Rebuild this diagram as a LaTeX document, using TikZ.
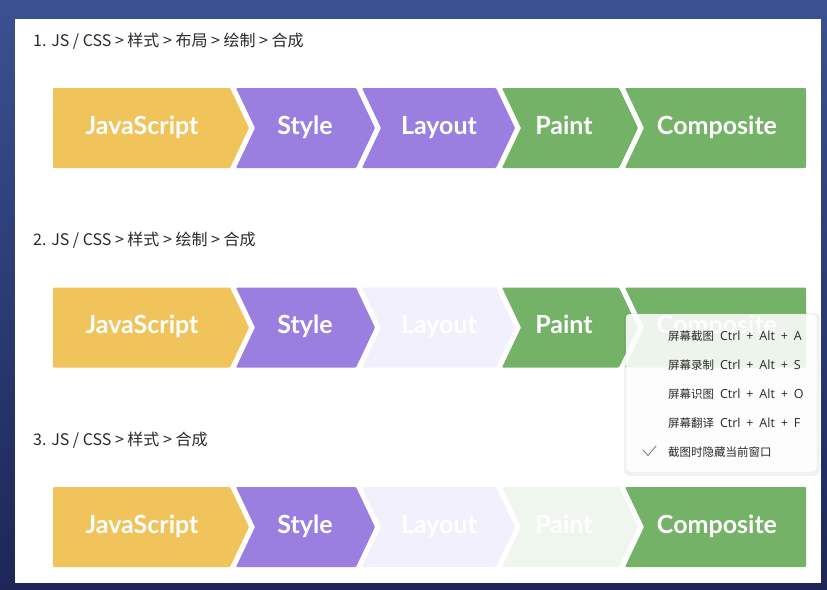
\documentclass[tikz,border=0pt]{standalone}
\usepackage{fontspec}
\setmainfont{Noto Sans CJK SC}
\newfontfamily\stagefont{Lato}
\newfontfamily\keyfont[WordSpace=1.8]{Open Sans}
\usepackage{tikz}
\usetikzlibrary{calc,positioning}
\definecolor{frameTop}{HTML}{3A5192}
\definecolor{frameBot}{HTML}{1D2657}
\definecolor{jsYellow}{HTML}{F0C35B}
\definecolor{stylePurple}{HTML}{9A7FE1}
\definecolor{paintGreen}{HTML}{74B267}
\definecolor{layoutFaint}{HTML}{F3F0FD}
\definecolor{paintFaint}{HTML}{EFF6EE}
\definecolor{inkGray}{HTML}{2A2A2A}

% chevron segments: colour, top y, left x, right x (depth 19)
\newcommand{\headseg}[4]{\fill[#1,rounded corners=1pt] (#3,#2) -- (#4,#2) -- (#4+19,#2+40) -- (#4,#2+80) -- (#3,#2+80) -- cycle;}
\newcommand{\midseg}[4]{\fill[#1,rounded corners=1pt] (#3,#2) -- (#4,#2) -- (#4+19,#2+40) -- (#4,#2+80) -- (#3,#2+80) -- (#3+19,#2+40) -- cycle;}
\newcommand{\tailseg}[4]{\fill[#1,rounded corners=1pt] (#3,#2) -- (#4,#2) -- (#4,#2+80) -- (#3,#2+80) -- (#3+19,#2+40) -- cycle;}
\newcommand{\keys}[1]{{\keyfont\fontsize{12.5}{14}\selectfont\ Ctrl + Alt + #1}}

\begin{document}
\begin{tikzpicture}[x=1pt,y=-1pt,
    heading/.style={anchor=base west,inner sep=0pt,text=inkGray,font=\fontsize{16}{18}\selectfont},
    stage/.style={anchor=base,inner sep=0pt,text=white,font=\stagefont\bfseries\fontsize{25}{27}\selectfont},
    menubox/.style={draw=black!8,fill=white,fill opacity=0.88,rounded corners=4pt,
      minimum width=191pt,minimum height=158pt,inner sep=0pt},
    item/.style={anchor=base west,inner sep=0pt,text=inkGray,font=\fontsize{11.5}{14}\selectfont}]
  \useasboundingbox (0,0) rectangle (827,589);
  \shade[top color=frameTop,bottom color=frameBot] (0,0) rectangle (827,589);
  \fill[white] (15,19) rectangle (821,583);

  % three pipelines
  \foreach \r/\t/\lc/\pc/\steps in {1/88/stylePurple/paintGreen/布局 > 绘制 > 合成,
      2/287.5/layoutFaint/paintGreen/绘制 > 合成,
      3/487/layoutFaint/paintFaint/合成}{
    \node[heading] (title\r) at (33,\t-42) {\r. JS / CSS > 样式 > \steps};
    \headseg{jsYellow}{\t}{53}{230}
    \midseg{stylePurple}{\t}{236}{356}
    \midseg{\lc}{\t}{362}{496}
    \midseg{\pc}{\t}{502}{619}
    \tailseg{paintGreen}{\t}{625}{806}
    \node[stage] (js\r) at (142,\t+46) {JavaScript};
    \node[stage] (style\r) at (305,\t+46) {Style};
    \node[stage] (layout\r) at (439,\t+46) {Layout};
    \node[stage] (paint\r) at (564,\t+46) {Paint};
    \node[stage] (comp\r) at (717,\t+46) {Composite};
  }

  % screenshot menu
  \fill[black,opacity=0.05,rounded corners=5pt] (624,313) rectangle (820,476);
  \node[menubox] (menu) at (721.5,393) {};
  \node[item] (shot) at (668,340) {屏幕截图\keys{A}};
  \node[item] (record) at (668,369) {屏幕录制\keys{S}};
  \node[item] (ocr) at (668,398) {屏幕识图\keys{O}};
  \node[item] (trans) at (668,427) {屏幕翻译\keys{F}};
  \node[item] (hide) at (668,456) {截图时隐藏当前窗口};
  \draw[black!55,line width=0.8pt,line cap=round,line join=round]
    (643,450) -- (648,455.5) -- (656,446);
\end{tikzpicture}
\end{document}
